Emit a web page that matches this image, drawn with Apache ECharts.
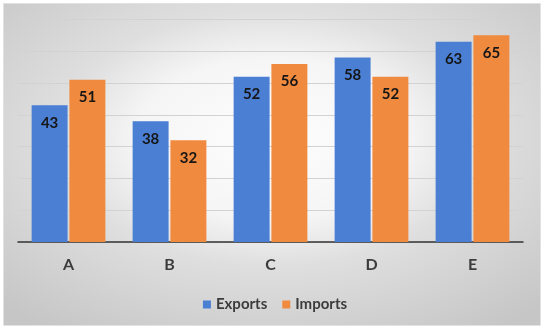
<!DOCTYPE html>
<html>
<head>
<meta charset="utf-8">
<style>
  html, body { margin: 0; padding: 0; background: #ffffff; }
  #chart { width: 550px; height: 333px; }
</style>
<script src="https://cdn.jsdelivr.net/npm/echarts@6/dist/echarts.min.js"></script>
</head>
<body>
<div id="chart"></div>
<script>
// Trade figures per group
const categories = ['A', 'B', 'C', 'D', 'E'];
const exportsData = [43, 38, 52, 58, 63];
const importsData = [51, 32, 56, 52, 65];
const seriesNames = ['Exports', 'Imports'];

const chart = echarts.init(document.getElementById('chart'), null, { renderer: 'canvas' });

const FONT = 'Lato, "Open Sans", sans-serif';
const BOX = { x: 3, y: 3, w: 537, h: 322 };

// Soft elliptical panel behind the plot: a square with a radial fill, stretched horizontally
const panelFill = new echarts.graphic.RadialGradient(0.5, 0.42, 0.72, [
  { offset: 0, color: '#fefefe' },
  { offset: 0.35, color: '#f5f5f5' },
  { offset: 0.55, color: '#dfdfdf' },
  { offset: 1, color: '#c6c6c6' }
]);

const labelStyle = {
  show: true,
  position: 'insideTop',
  distance: 10,
  fontFamily: FONT,
  fontWeight: 'bold',
  fontSize: 15,
  color: '#161616'
};

chart.setOption({
  backgroundColor: '#ffffff',
  animation: false,
  graphic: [
    {
      type: 'rect',
      x: BOX.x,
      y: BOX.y,
      scaleX: BOX.w / BOX.h,
      shape: { x: 0, y: 0, width: BOX.h, height: BOX.h },
      style: { fill: panelFill },
      z: -10,
      silent: true
    },
    {
      type: 'rect',
      shape: { x: BOX.x + 0.5, y: BOX.y + 0.5, width: BOX.w, height: BOX.h },
      style: { fill: 'none', stroke: '#e2e2e2', lineWidth: 1 },
      z: -9,
      silent: true
    }
  ],
  grid: { left: 18, right: 27, top: 19.4, bottom: 91, containLabel: false },
  legend: {
    data: seriesNames,
    left: 'center',
    top: 292,
    itemWidth: 8,
    itemHeight: 8,
    itemGap: 15,
    icon: 'rect',
    textStyle: { fontFamily: FONT, fontWeight: 'bold', fontSize: 15, color: '#3c3c3c' }
  },
  xAxis: {
    type: 'category',
    data: categories,
    axisTick: { show: false },
    axisLine: { show: true, lineStyle: { color: '#333333', width: 1.5 } },
    axisLabel: { margin: 15, fontFamily: FONT, fontWeight: 'bold', fontSize: 16, color: '#3c3c3c' }
  },
  yAxis: {
    type: 'value',
    min: 0,
    max: 70,
    interval: 10,
    axisLabel: { show: false },
    axisLine: { show: false },
    axisTick: { show: false },
    splitLine: { show: true, lineStyle: { color: '#d2d2d2', width: 1 } }
  },
  series: [
    {
      name: seriesNames[0],
      type: 'bar',
      data: exportsData,
      barCategoryGap: '27%',
      barGap: '5%',
      itemStyle: { color: '#4a7fd4' },
      label: labelStyle
    },
    {
      name: seriesNames[1],
      type: 'bar',
      data: importsData,
      barCategoryGap: '27%',
      barGap: '5%',
      itemStyle: { color: '#ef8a3e' },
      label: labelStyle
    }
  ]
});
</script>
</body>
</html>
